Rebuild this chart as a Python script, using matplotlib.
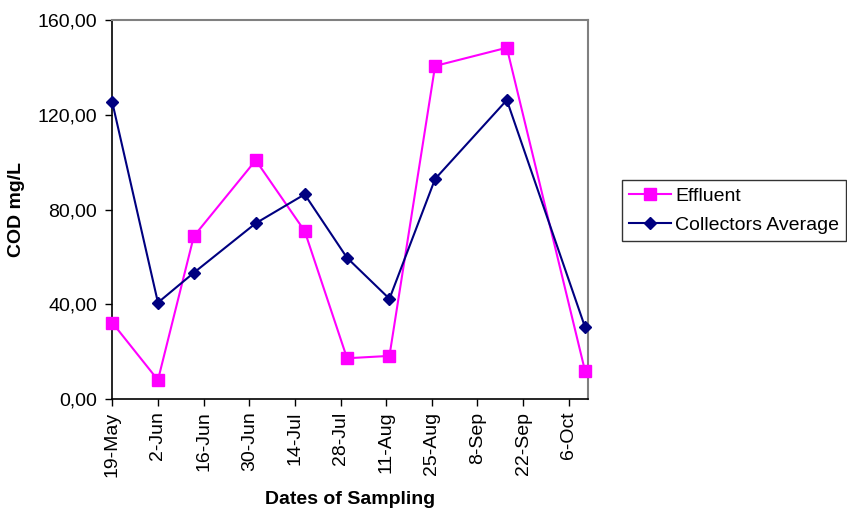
import datetime as dt
import matplotlib
matplotlib.use("Agg")
import matplotlib.pyplot as plt
import matplotlib.dates as mdates

plt.rcParams['font.family'] = ['Liberation Sans', 'DejaVu Sans']

# sampling dates and COD values (mg/L)
sample_dates = ['2004-05-19', '2004-06-02', '2004-06-13', '2004-07-02', '2004-07-17',
                '2004-07-30', '2004-08-12', '2004-08-26', '2004-09-17', '2004-10-11']
effluent = [32.2, 8.0, 68.7, 100.8, 70.9, 17.2, 18.2, 140.6, 148.3, 11.8]
collectors_avg = [125.2, 40.7, 53.3, 74.2, 86.4, 59.6, 42.3, 92.9, 126.2, 30.3]

dates = [dt.datetime.strptime(d, '%Y-%m-%d') for d in sample_dates]
start = dates[0]
tick_dates = [start + dt.timedelta(days=14 * i) for i in range(11)]
tick_labels = [f"{d.day}-{d.strftime('%b')}" for d in tick_dates]

fig = plt.figure(figsize=(8.47, 5.09), dpi=100)
ax = fig.add_axes([0.1326, 0.2161, 0.5620, 0.7446])

ax.plot(dates, effluent, color='#FF00FF', marker='s', markersize=8, lw=1.5,
        label='Effluent', clip_on=False, zorder=3)
ax.plot(dates, collectors_avg, color='#000080', marker='D', markersize=6.5, lw=1.5,
        label='Collectors Average', clip_on=False, zorder=4)

ax.set_xlim(mdates.date2num(start), mdates.date2num(start + dt.timedelta(days=146)))
ax.set_ylim(0, 160)
ax.set_xticks(tick_dates)
ax.set_xticklabels(tick_labels, rotation=90, fontsize=14)
ax.set_yticks([0, 40, 80, 120, 160])
ax.set_yticklabels(['0,00', '40,00', '80,00', '120,00', '160,00'], fontsize=14)
ax.tick_params(direction='out', length=5, width=1, color='black')
ax.tick_params(axis='y', pad=6)
ax.tick_params(axis='x', pad=4)

for side in ('left', 'bottom'):
    ax.spines[side].set_color('black')
    ax.spines[side].set_linewidth(1.2)
for side in ('top', 'right'):
    ax.spines[side].set_color('#808080')
    ax.spines[side].set_linewidth(1.5)

ax.set_xlabel('Dates of Sampling', fontsize=14, fontweight='bold', labelpad=10)
ax.set_ylabel('COD mg/L', fontsize=14, fontweight='bold', labelpad=9)

leg = fig.legend(loc='upper left', bbox_to_anchor=(0.734, 0.6464), fontsize=14,
                 frameon=True, fancybox=False, edgecolor='black', borderpad=0.36,
                 borderaxespad=0, handlelength=2.2, handletextpad=0.2,
                 labelspacing=0.6)
leg.get_frame().set_linewidth(1.0)

fig.savefig('out.png', dpi=100)
